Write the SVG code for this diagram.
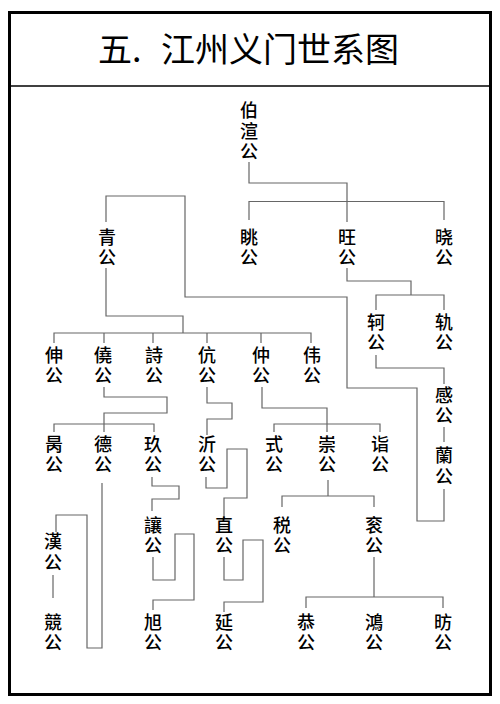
<svg xmlns="http://www.w3.org/2000/svg" width="500" height="704" viewBox="0 0 500 704">
<style>
.t{font-family:"Noto Sans CJK SC","Noto Sans CJK TC",sans-serif;font-size:18px;font-weight:500;fill:#000;text-anchor:middle}
.ttl{font-family:"Noto Sans CJK SC",sans-serif;font-size:34px;fill:#000}
.c path{fill:none;stroke:#666;stroke-width:1.2}
</style>
<rect x="0" y="0" width="500" height="704" fill="#fff"/>
<rect x="9.5" y="12.5" width="481" height="682" fill="none" stroke="#000" stroke-width="3"/>
<line x1="9.5" y1="86" x2="490.5" y2="86" stroke="#000" stroke-width="1.5"/>
<text class="ttl" y="62"><tspan x="98">五.</tspan><tspan x="161">江州义门世系图</tspan></text>
<g class="c" id="connectors">
<path d="M249,162 V183 H347 V222"/>
<path d="M249,220 V201.5 H444 V220"/>
<path d="M106,222 V196 H185 V297 H347 V388 H417 V521 H444 V489"/>
<path d="M106,268 V316 H183 V333"/>
<path d="M54,343 V333 H311 V343 M104,333 V343 M153,333 V343 M207,333 V343 M261,333 V343"/>
<path d="M347,268 V281 H411 V295"/>
<path d="M376,310 V295 H444 V310"/>
<path d="M376,355 V368 H444 V384"/>
<path d="M444,427 V442"/>
<path d="M104,387 V397 H167 V413 H104 V432"/>
<path d="M54,432 V424 H154 V432"/>
<path d="M102,483 V648 H87 V515 H56 V532"/>
<path d="M53,575 V598"/>
<path d="M207,387 V403 H232 V419 H207 V435"/>
<path d="M206,477 V488 H227 V449 H247 V498 H224 V519"/>
<path d="M152,477 V486 H179 V499 H152 V511"/>
<path d="M153,557 V580 H175 V534 H194 V600 H153 V610"/>
<path d="M224,557 V580 H243 V540 H263 V602 H224 V612"/>
<path d="M262,387 V408 H327 V432"/>
<path d="M274,432 V424 H380 V432"/>
<path d="M328,480 V496"/>
<path d="M282,507 V496 H374 V507"/>
<path d="M374,557 V597"/>
<path d="M306,608 V597 H443 V608"/>
</g>
<g id="n-boxuan"><text class="t"><tspan x="249" y="117">伯</tspan><tspan x="249" y="137.5">渲</tspan><tspan x="249" y="158">公</tspan></text></g>
<g id="n-qing"><text class="t"><tspan x="107" y="244">青</tspan><tspan x="107" y="264">公</tspan></text></g>
<g id="n-tiao"><text class="t"><tspan x="249" y="244">眺</tspan><tspan x="249" y="264">公</tspan></text></g>
<g id="n-wang"><text class="t"><tspan x="347" y="244">旺</tspan><tspan x="347" y="264">公</tspan></text></g>
<g id="n-xiao"><text class="t"><tspan x="444" y="244">晓</tspan><tspan x="444" y="264">公</tspan></text></g>
<g id="n-ke"><text class="t"><tspan x="376" y="329">轲</tspan><tspan x="376" y="349">公</tspan></text></g>
<g id="n-gui"><text class="t"><tspan x="444" y="329">轨</tspan><tspan x="444" y="349">公</tspan></text></g>
<g id="n-shen"><text class="t"><tspan x="54" y="362">伸</tspan><tspan x="54" y="382">公</tspan></text></g>
<g id="n-chan"><text class="t"><tspan x="103" y="362">僥</tspan><tspan x="103" y="382">公</tspan></text></g>
<g id="n-shi"><text class="t"><tspan x="154" y="362">詩</tspan><tspan x="154" y="382">公</tspan></text></g>
<g id="n-kang"><text class="t"><tspan x="207" y="362">伉</tspan><tspan x="207" y="382">公</tspan></text></g>
<g id="n-zhong"><text class="t"><tspan x="261" y="362">仲</tspan><tspan x="261" y="382">公</tspan></text></g>
<g id="n-wei"><text class="t"><tspan x="312" y="362">伟</tspan><tspan x="312" y="382">公</tspan></text></g>
<g id="n-gan"><text class="t"><tspan x="444" y="402">感</tspan><tspan x="444" y="422">公</tspan></text></g>
<g id="n-lan"><text class="t"><tspan x="444" y="462">蘭</tspan><tspan x="444" y="483">公</tspan></text></g>
<g id="n-bing"><text class="t"><tspan x="54" y="451">昺</tspan><tspan x="54" y="471">公</tspan></text></g>
<g id="n-de"><text class="t"><tspan x="103" y="451">德</tspan><tspan x="103" y="471">公</tspan></text></g>
<g id="n-jiu"><text class="t"><tspan x="153" y="451">玖</tspan><tspan x="153" y="471">公</tspan></text></g>
<g id="n-yi"><text class="t"><tspan x="207" y="451">沂</tspan><tspan x="207" y="471">公</tspan></text></g>
<g id="n-shi2"><text class="t"><tspan x="274" y="451">式</tspan><tspan x="274" y="471">公</tspan></text></g>
<g id="n-chong"><text class="t"><tspan x="327" y="451">崇</tspan><tspan x="327" y="471">公</tspan></text></g>
<g id="n-yi2"><text class="t"><tspan x="380" y="451">诣</tspan><tspan x="380" y="471">公</tspan></text></g>
<g id="n-han"><text class="t"><tspan x="53" y="548">漢</tspan><tspan x="53" y="569">公</tspan></text></g>
<g id="n-rang"><text class="t"><tspan x="153" y="532">讓</tspan><tspan x="153" y="552">公</tspan></text></g>
<g id="n-zhi"><text class="t"><tspan x="224" y="532">直</tspan><tspan x="224" y="552">公</tspan></text></g>
<g id="n-shui"><text class="t"><tspan x="282" y="532">税</tspan><tspan x="282" y="552">公</tspan></text></g>
<g id="n-gun"><text class="t"><tspan x="374" y="532">衮</tspan><tspan x="374" y="552">公</tspan></text></g>
<g id="n-jing"><text class="t"><tspan x="53" y="629">競</tspan><tspan x="53" y="649">公</tspan></text></g>
<g id="n-xu"><text class="t"><tspan x="153" y="629">旭</tspan><tspan x="153" y="649">公</tspan></text></g>
<g id="n-yan"><text class="t"><tspan x="224" y="629">延</tspan><tspan x="224" y="649">公</tspan></text></g>
<g id="n-gong"><text class="t"><tspan x="306" y="629">恭</tspan><tspan x="306" y="649">公</tspan></text></g>
<g id="n-hong"><text class="t"><tspan x="374" y="629">鴻</tspan><tspan x="374" y="649">公</tspan></text></g>
<g id="n-fang"><text class="t"><tspan x="443" y="629">昉</tspan><tspan x="443" y="649">公</tspan></text></g>
</svg>
